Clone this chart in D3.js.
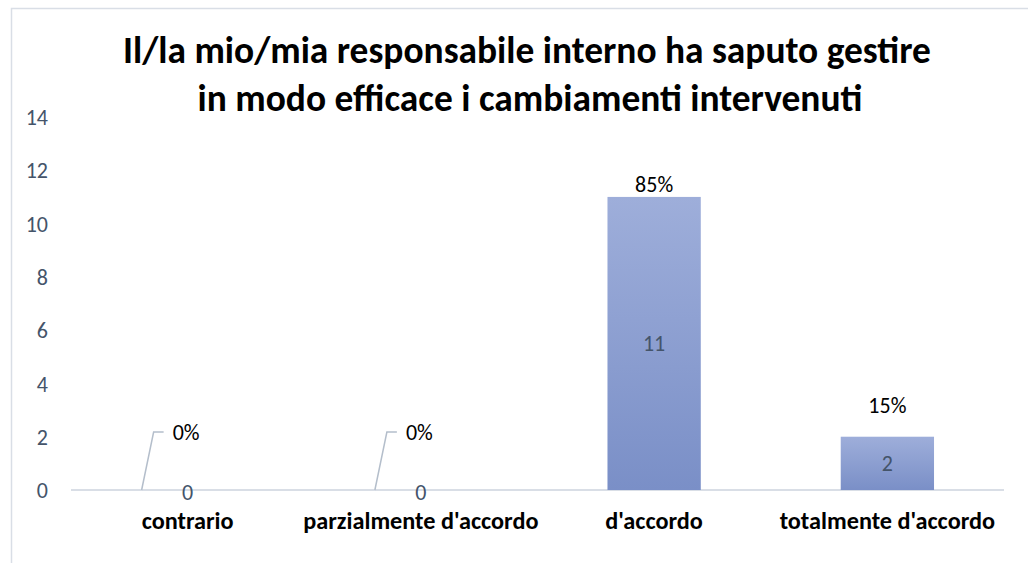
<!DOCTYPE html>
<html><head><meta charset="utf-8">
<script src="https://cdn.jsdelivr.net/npm/d3@7"></script>
<style>body{margin:0;background:#fff}svg{display:block}</style>
</head><body>
<svg id="chart" width="1028" height="563"></svg>
<script>
const categories = ["contrario", "parzialmente d'accordo", "d'accordo", "totalmente d'accordo"];
const counts = [0, 0, 11, 2];
const percentLabels = ["0%", "0%", "85%", "15%"];
const yTicks = [0, 2, 4, 6, 8, 10, 12, 14];
const titleLines = ["Il/la mio/mia responsabile interno ha saputo gestire", "in modo efficace i cambiamenti intervenuti"];

const svg = d3.select("#chart");
const font = "Carlito, 'Open Sans', 'Noto Sans', sans-serif";

function fitSize(sel, target) {
  const w = sel.node().getComputedTextLength();
  const fs = parseFloat(sel.attr("font-size"));
  sel.attr("font-size", fs * target / w);
}

// frame
svg.append("path").attr("d", "M11.5,563 V8.5 H1028").attr("fill", "none").attr("stroke", "#D9DEE6").attr("stroke-width", 1.5);

const x = d3.scaleBand().domain(categories).range([71, 1004]).paddingInner(0.6).paddingOuter(0.3);
const y = d3.scaleLinear().domain([0, 14]).range([490, 117]);

const defs = svg.append("defs");
const grad = defs.append("linearGradient").attr("id", "barGrad").attr("x1", 0).attr("y1", 0).attr("x2", 0).attr("y2", 1);
grad.append("stop").attr("offset", "0%").attr("stop-color", "#9EAEDA");
grad.append("stop").attr("offset", "100%").attr("stop-color", "#7A8FC7");

// title
const t1 = svg.append("text").attr("x", 527).attr("y", 63).attr("text-anchor", "middle")
  .attr("font-family", font).attr("font-weight", "bold").attr("font-size", 32).attr("fill", "#000").text(titleLines[0]);
fitSize(t1, 808);
const t2 = svg.append("text").attr("x", 530).attr("y", 111).attr("text-anchor", "middle")
  .attr("font-family", font).attr("font-weight", "bold").attr("font-size", t1.attr("font-size")).attr("fill", "#000").text(titleLines[1]);

// y axis labels
const yAxis = d3.axisLeft(y).tickValues(yTicks).tickSize(0).tickPadding(0);
const ga = svg.append("g").attr("transform", "translate(48,0)").call(yAxis);
ga.select(".domain").remove();
ga.selectAll("text").attr("font-family", font).attr("font-size", 22).attr("fill", "#44546A").attr("dy", "0.35em").attr("text-anchor", "end");

// baseline
svg.append("line").attr("x1", 71).attr("x2", 1004).attr("y1", y(0)).attr("y2", y(0)).attr("stroke", "#D9DEE6").attr("stroke-width", 2);

// bars
svg.selectAll("rect.bar").data(counts).enter().append("rect").attr("class", "bar")
  .attr("x", (d, i) => x(categories[i])).attr("width", x.bandwidth())
  .attr("y", d => y(d)).attr("height", d => y(0) - y(d)).attr("fill", "url(#barGrad)");

// value labels
svg.selectAll("text.val").data(counts).enter().append("text").attr("class", "val")
  .attr("x", (d, i) => x(categories[i]) + x.bandwidth() / 2)
  .attr("y", d => d === 0 ? y(0) + 10 : (y(d) + y(0)) / 2 + 8)
  .attr("text-anchor", "middle").attr("font-family", font).attr("font-size", 22).attr("fill", "#44546A")
  .text(d => d);

// percent labels
counts.forEach((d, i) => {
  const cx = x(categories[i]) + x.bandwidth() / 2;
  if (d === 0) {
    const lx = cx - 46;
    svg.append("path").attr("d", `M${lx},${y(0)} L${lx + 12},${y(0) - 58} H${lx + 22}`)
      .attr("fill", "none").attr("stroke", "#B4BECB").attr("stroke-width", 1.5);
    svg.append("text").attr("x", lx + 31).attr("y", y(0) - 50).attr("font-family", font).attr("font-size", 22)
      .attr("fill", "#000").text(percentLabels[i]);
  } else {
    svg.append("text").attr("x", cx).attr("y", d === 2 ? y(d) - 24 : y(d) - 5).attr("text-anchor", "middle")
      .attr("font-family", font).attr("font-size", 22).attr("fill", "#000").text(percentLabels[i]);
  }
});

// category labels
const cats = svg.selectAll("text.cat").data(categories).enter().append("text").attr("class", "cat")
  .attr("x", d => x(d) + x.bandwidth() / 2).attr("y", 529).attr("text-anchor", "middle")
  .attr("font-family", font).attr("font-weight", "bold").attr("font-size", 20).attr("fill", "#000")
  .text(d => d);
fitSize(d3.select(cats.nodes()[0]), 92);
cats.attr("font-size", d3.select(cats.nodes()[0]).attr("font-size"));
</script>
</body></html>
